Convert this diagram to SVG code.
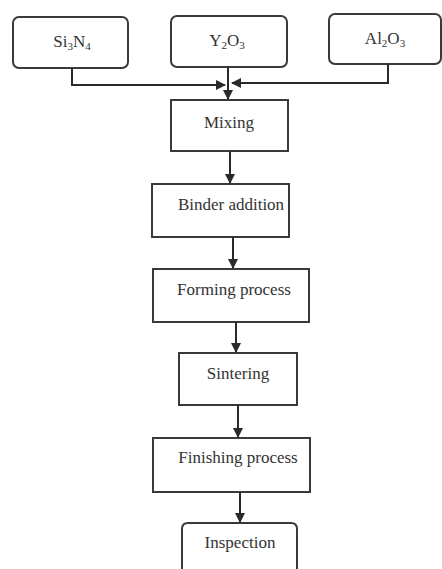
<svg xmlns="http://www.w3.org/2000/svg" width="442" height="569" viewBox="0 0 442 569">
<style>
.box{fill:#fff;stroke:#3a3a3a;stroke-width:2}
.t{font-family:"Liberation Serif",serif;font-size:17px;fill:#333;text-anchor:middle}
.s{font-size:11px}
.c{fill:none;stroke:#2a2a2a;stroke-width:2}
</style>
<defs>
<marker id="ah" viewBox="0 0 10 10" refX="9" refY="5" markerWidth="5" markerHeight="5" orient="auto" markerUnits="strokeWidth">
<path d="M0,0 L10,5 L0,10 z" fill="#2a2a2a"/>
</marker>
</defs>
<rect width="442" height="569" fill="#fff"/>
<g id="si3n4"><rect class="box" x="13" y="17" width="115" height="51" rx="6"/><text class="t" x="72" y="47">Si<tspan class="s" dy="3">3</tspan><tspan dy="-3">N</tspan><tspan class="s" dy="3">4</tspan></text></g>
<g id="y2o3"><rect class="box" x="171" y="16" width="116" height="51" rx="6"/><text class="t" x="227" y="46">Y<tspan class="s" dy="3">2</tspan><tspan dy="-3">O</tspan><tspan class="s" dy="3">3</tspan></text></g>
<g id="al2o3"><rect class="box" x="329" y="14" width="112" height="50" rx="6"/><text class="t" x="385" y="44">Al<tspan class="s" dy="3">2</tspan><tspan dy="-3">O</tspan><tspan class="s" dy="3">3</tspan></text></g>
<g id="mixing"><rect class="box" x="171" y="100" width="117" height="51"/><text class="t" x="229" y="128">Mixing</text></g>
<g id="binder"><rect class="box" x="152" y="184" width="137" height="53"/><text class="t" x="231" y="210">Binder addition</text></g>
<g id="forming"><rect class="box" x="153" y="269" width="156" height="53"/><text class="t" x="234" y="295">Forming process</text></g>
<g id="sintering"><rect class="box" x="179" y="353" width="118" height="52"/><text class="t" x="238" y="379">Sintering</text></g>
<g id="finishing"><rect class="box" x="153" y="438" width="157" height="54"/><text class="t" x="238" y="463">Finishing process</text></g>
<g id="inspection"><path class="box" d="M182,571 V529 Q182,523 188,523 H291 Q297,523 297,529 V571"/><text class="t" x="240" y="548">Inspection</text></g>
<g id="connectors">
<path class="c" d="M72,68 V85 H225" marker-end="url(#ah)"/>
<path class="c" d="M388,64 V83 H232" marker-end="url(#ah)"/>
<path class="c" d="M228,67 V99" marker-end="url(#ah)"/>
<path class="c" d="M230,151 V183" marker-end="url(#ah)"/>
<path class="c" d="M233,237 V268" marker-end="url(#ah)"/>
<path class="c" d="M236,322 V352" marker-end="url(#ah)"/>
<path class="c" d="M238,405 V437" marker-end="url(#ah)"/>
<path class="c" d="M240,492 V522" marker-end="url(#ah)"/>
</g>
</svg>
